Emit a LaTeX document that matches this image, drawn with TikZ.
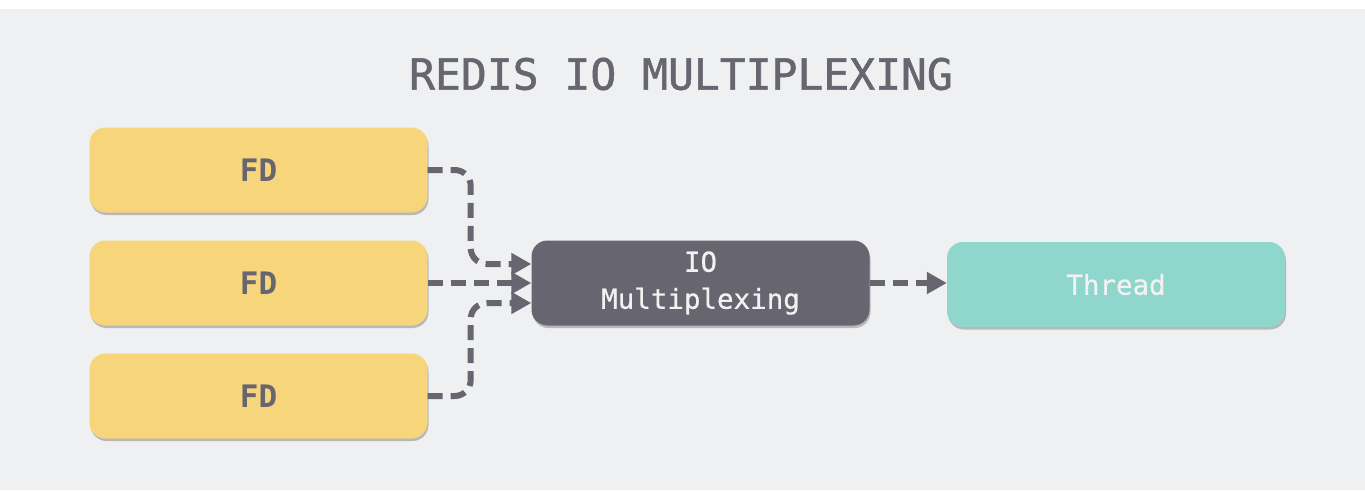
\documentclass[tikz,border=0pt]{standalone}
\usepackage{fontspec}
\setmonofont{DejaVu Sans Mono}
\newfontfamily\titlefont[FakeBold=1.2]{DejaVu Sans Mono}
\newfontfamily\boxfont[FakeBold=0.6]{DejaVu Sans Mono}
\usetikzlibrary{positioning,arrows.meta,shadows}
\definecolor{bg}{HTML}{EFF0F2}
\definecolor{fdfill}{HTML}{F7D57A}
\definecolor{muxfill}{HTML}{67656F}
\definecolor{thrfill}{HTML}{8FD6CD}
\definecolor{ink}{HTML}{67656F}
\definecolor{light}{HTML}{F2F2F2}

\begin{document}
\begin{tikzpicture}[x=1pt,y=-1pt,
    box/.style={rounded corners=16pt,minimum width=338pt,minimum height=85pt,
      inner sep=0pt,align=center,
      drop shadow={shadow xshift=1pt,shadow yshift=-2.5pt,opacity=0.4,fill=black!60}},
    fd/.style={box,fill=fdfill,text=ink,font=\ttfamily\bfseries\fontsize{31}{37}\selectfont},
    mux/.style={box,fill=muxfill,text=light,font=\boxfont\fontsize{27.5}{37}\selectfont},
    thr/.style={box,fill=thrfill,text=light,font=\boxfont\fontsize{27.5}{37}\selectfont},
    flow/.style={draw=ink,line width=6pt,dash pattern=on 15pt off 8pt,
      -{Triangle[length=20pt,width=21pt,fill=ink]},rounded corners=16pt}]
      \useasboundingbox (0,0) rectangle (1365,490);
      \fill[white] (0,0) rectangle (1365,490);
      \fill[bg] (0,9) rectangle (1365,490);

      \path
      (681,74) node(title) [text=ink,font=\titlefont\fontsize{43}{48}\selectfont] {REDIS IO MULTIPLEXING}
      (258.5,170) node(fd1) [fd] {FD}
      (258.5,283) node(fd2) [fd] {FD}
      (258.5,396) node(fd3) [fd] {FD}
      (700.5,283) node(io) [mux] {IO\\Multiplexing}
      (1116,284.5) node(thread) [thr] {Thread}
      ;

      \draw[flow] (fd1.east) -- ++(43,0) |- ([yshift=19pt]io.west);
      \draw[flow] (fd2.east) -- (io.west);
      \draw[flow] (fd3.east) -- ++(43,0) |- ([yshift=-20pt]io.west);
      \draw[flow] (io.east) -- (io.east -| thread.west);
\end{tikzpicture}
\end{document}
